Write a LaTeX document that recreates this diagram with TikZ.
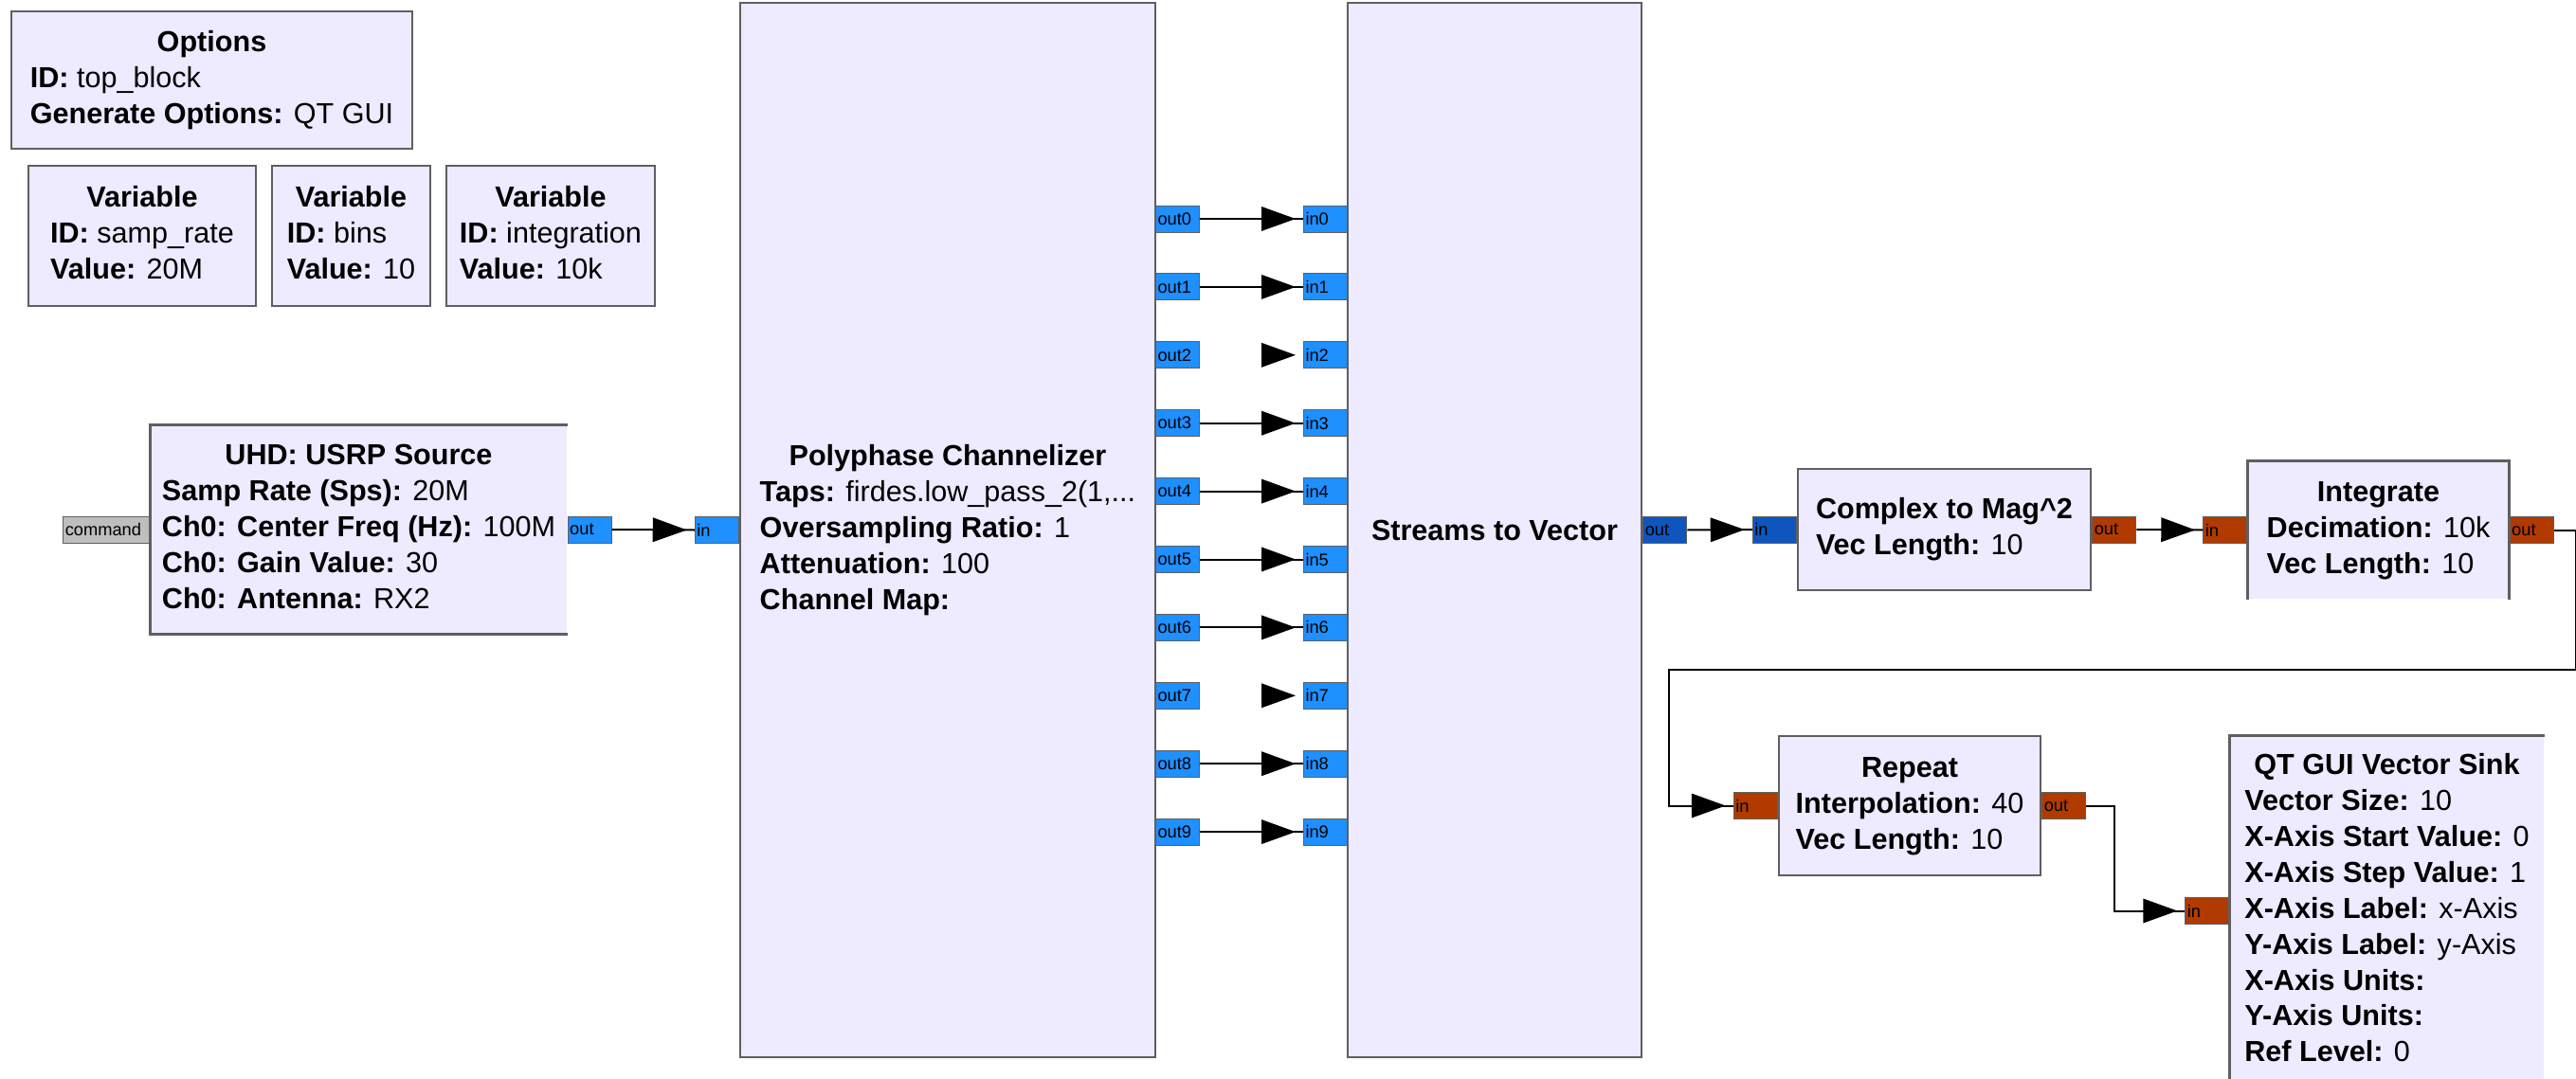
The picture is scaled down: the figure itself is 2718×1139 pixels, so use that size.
\documentclass[tikz,border=0pt]{standalone}
\usepackage{fontspec}
\setmainfont{Liberation Sans}
\usetikzlibrary{decorations.markings}

\definecolor{blockfill}{RGB}{238,234,255}
\definecolor{edgegray}{RGB}{95,95,95}
\definecolor{cplxblue}{RGB}{30,144,255}
\definecolor{vecblue}{RGB}{15,85,190}
\definecolor{fltbrown}{RGB}{176,58,0}
\definecolor{msggray}{RGB}{190,190,190}

\newcommand{\blk}[2]{\begin{tabular}{@{}l@{}}\multicolumn{1}{@{}c@{}}{\textbf{#1}}\\#2\end{tabular}}
\newcommand{\kv}[2]{\textbf{#1:} #2}

\begin{document}
\begin{tikzpicture}[
x=0.1mm, y=-0.1mm,
font=\fontsize{8.7}{10.8}\selectfont,
block/.style={draw=edgegray, line width=0.25mm, fill=blockfill, inner sep=0pt},
openblock/.style={fill=blockfill, inner sep=0pt},
edge/.style={draw=edgegray, line width=0.25mm},
port/.style={draw=edgegray, line width=0.1mm, minimum height=2.8mm, text width=4.2mm, inner xsep=0.2mm, inner ysep=0pt, align=left, font=\fontsize{5.2}{5.5}\selectfont},
cport/.style={port, fill=cplxblue},
vport/.style={port, fill=vecblue},
fport/.style={port, fill=fltbrown},
mport/.style={port, fill=msggray, text width=8.7mm},
tip/.style={postaction={decorate}, decoration={markings, mark=at position -0.8mm with {\fill[black] (0,0) -- (-3.6mm,1.3mm) -- (-3.6mm,-1.3mm) -- cycle;}}},
wire/.style={draw=black, line width=0.2mm, tip}
]
\useasboundingbox (0,0) rectangle (2718,1139);

\node[block, minimum width=42.3mm, minimum height=14.5mm] (opts) at (223.5,84.5) {\blk{Options}{\kv{ID}{top\_block}\\\kv{Generate Options}{QT GUI}}};
\node[block, minimum width=24mm, minimum height=14.8mm] (vrate) at (150,249) {\blk{Variable}{\kv{ID}{samp\_rate}\\\kv{Value}{20M}}};
\node[block, minimum width=16.7mm, minimum height=14.8mm] (vbins) at (370.5,249) {\blk{Variable}{\kv{ID}{bins}\\\kv{Value}{10}}};
\node[block, minimum width=22mm, minimum height=14.8mm] (vinteg) at (581,249) {\blk{Variable}{\kv{ID}{integration}\\\kv{Value}{10k}}};

\node[openblock, minimum width=43.9mm, minimum height=22mm] (usrp) at (378.5,559) {\blk{UHD: USRP Source}{\kv{Samp Rate (Sps)}{20M}\\\kv{Ch0: Center Freq (Hz)}{100M}\\\kv{Ch0: Gain Value}{30}\\\kv{Ch0: Antenna}{RX2}}};
\draw[edge] (usrp.north east) -- (usrp.north west) -- (usrp.south west) -- (usrp.south east);

\node[block, minimum width=43.8mm, minimum height=111.3mm] (poly) at (1000,559.5) {\blk{Polyphase Channelizer}{\kv{Taps}{firdes.low\_pass\_2(1,...}\\\kv{Oversampling Ratio}{1}\\\kv{Attenuation}{100}\\\kv{Channel Map}{}}};
\node[block, minimum width=31mm, minimum height=111.3mm] (s2v) at (1577,559.5) {\textbf{Streams to Vector}};
\node[block, minimum width=30.9mm, minimum height=12.8mm] (c2m) at (2051.5,559) {\blk{Complex to Mag\textasciicircum2}{\kv{Vec Length}{10}}};

\node[openblock, minimum width=27.5mm, minimum height=14.5mm] (integ) at (2509.5,559.5) {\blk{Integrate}{\kv{Decimation}{10k}\\\kv{Vec Length}{10}}};
\draw[edge] (integ.south west) -- (integ.north west) -- (integ.north east) -- (integ.south east);

\node[block, minimum width=27.6mm, minimum height=14.7mm] (rep) at (2015,850.5) {\blk{Repeat}{\kv{Interpolation}{40}\\\kv{Vec Length}{10}}};

\node[openblock, minimum width=33.1mm, minimum height=36.9mm] (sink) at (2518.5,961.5) {\blk{QT GUI Vector Sink}{\kv{Vector Size}{10}\\\kv{X-Axis Start Value}{0}\\\kv{X-Axis Step Value}{1}\\\kv{X-Axis Label}{x-Axis}\\\kv{Y-Axis Label}{y-Axis}\\\kv{X-Axis Units}{}\\\kv{Y-Axis Units}{}\\\kv{Ref Level}{0}}};
\draw[edge] (sink.north east) -- (sink.north west) -- (sink.south west);

\node[mport, anchor=east] (cmd) at (usrp.west) {command};
\node[cport, anchor=west] (uout) at (usrp.east) {out};
\node[cport, anchor=east] (pin) at (poly.west) {in};
\node[vport, anchor=west] (vout) at (s2v.east) {out};
\node[vport, anchor=east] (cin) at (c2m.west) {in};
\node[fport, anchor=west] (cout) at (c2m.east) {out};
\node[fport, anchor=east] (iin) at (integ.west) {in};
\node[fport, anchor=west] (iout) at (integ.east) {out};
\node[fport, anchor=east] (rin) at (rep.west) {in};
\node[fport, anchor=west] (rout) at (rep.east) {out};
\node[fport, anchor=east] (skin) at (sink.west) {in};

\foreach \k/\w in {0/wire,1/wire,2/tip,3/wire,4/wire,5/wire,6/wire,7/tip,8/wire,9/wire} {
  \node[cport, anchor=west] (pout\k) at (1219,231+71.9*\k) {out\k};
  \node[cport, anchor=east] (vin\k) at (1422,231+71.9*\k) {in\k};
  \path[\w] (pout\k.east) -- (vin\k.west);
}

\draw[wire] (uout.east) -- (pin.west);
\draw[wire] (vout.east) -- (cin.west);
\draw[wire] (cout.east) -- (iin.west);
\draw[wire] (iout.east) -| ++(23,147) -| ([xshift=-6.8mm]rin.west) -- (rin.west);
\draw[wire] (rout.east) -| ([xshift=-7.4mm]skin.west) -- (skin.west);
\end{tikzpicture}
\end{document}
